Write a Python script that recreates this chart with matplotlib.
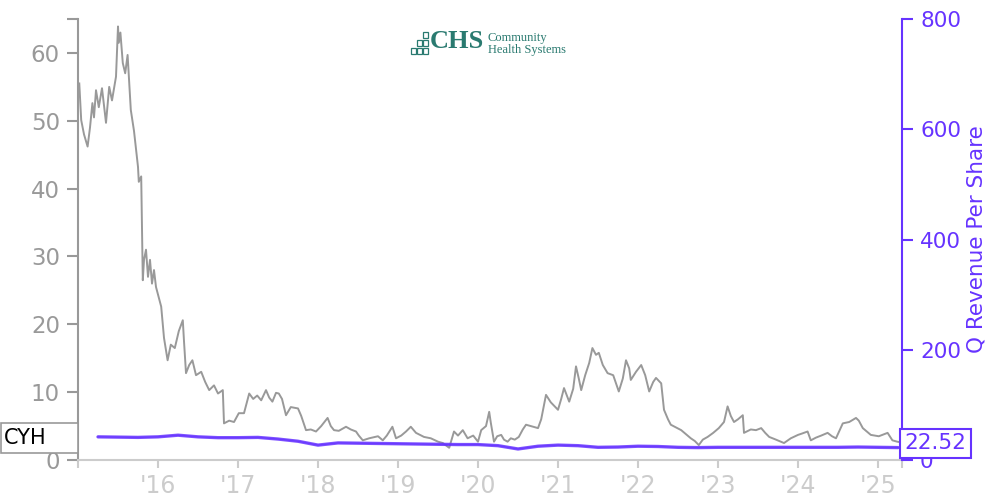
import numpy as np
import matplotlib
matplotlib.use("Agg")
import matplotlib.pyplot as plt
from matplotlib.patches import Rectangle

GRAY = "#999999"
LIGHT = "#cccccc"
PURPLE = "#6633ff"
TEAL = "#2a7a70"

# CYH close price (fractional year, USD)
price_t = [2015.016, 2015.04, 2015.075, 2015.12, 2015.15, 2015.18, 2015.20, 2015.225, 2015.26, 2015.30,
           2015.35, 2015.39, 2015.425, 2015.475, 2015.50, 2015.51, 2015.53, 2015.56, 2015.59, 2015.62,
           2015.66, 2015.70, 2015.75, 2015.76, 2015.79, 2015.81, 2015.825, 2015.85, 2015.875, 2015.90,
           2015.925, 2015.95, 2015.975, 2016.04, 2016.075, 2016.12, 2016.16, 2016.21, 2016.26, 2016.31,
           2016.325, 2016.35, 2016.39, 2016.43, 2016.475, 2016.54, 2016.59, 2016.64, 2016.70, 2016.75,
           2016.81, 2016.825, 2016.89, 2016.95, 2017.01, 2017.075, 2017.14, 2017.19, 2017.24, 2017.29,
           2017.35, 2017.39, 2017.43, 2017.475, 2017.51, 2017.55, 2017.60, 2017.66, 2017.75, 2017.79,
           2017.85, 2017.91, 2017.975, 2018.04, 2018.12, 2018.16, 2018.20, 2018.26, 2018.35, 2018.41,
           2018.475, 2018.51, 2018.56, 2018.64, 2018.75, 2018.81, 2018.86, 2018.93, 2018.975, 2019.04,
           2019.10, 2019.16, 2019.225, 2019.325, 2019.41, 2019.50, 2019.56, 2019.64, 2019.70, 2019.75,
           2019.81, 2019.87, 2019.94, 2020.0, 2020.04, 2020.10, 2020.14, 2020.16, 2020.20, 2020.24,
           2020.29, 2020.325, 2020.37, 2020.41, 2020.46, 2020.51, 2020.56, 2020.60, 2020.66, 2020.75,
           2020.79, 2020.85, 2020.91, 2021.0, 2021.04, 2021.075, 2021.14, 2021.19, 2021.225, 2021.26,
           2021.29, 2021.34, 2021.39, 2021.43, 2021.475, 2021.51, 2021.56, 2021.62, 2021.69, 2021.76,
           2021.81, 2021.85, 2021.89, 2021.91, 2021.975, 2022.04, 2022.09, 2022.14, 2022.19, 2022.225,
           2022.29, 2022.325, 2022.375, 2022.41, 2022.475, 2022.54, 2022.60, 2022.66, 2022.71, 2022.76,
           2022.81, 2022.87, 2022.94, 2023.01, 2023.075, 2023.12, 2023.16, 2023.20, 2023.25, 2023.31,
           2023.325, 2023.41, 2023.475, 2023.54, 2023.59, 2023.64, 2023.725, 2023.825, 2023.91, 2024.0,
           2024.05, 2024.12, 2024.16, 2024.225, 2024.29, 2024.37, 2024.425, 2024.475, 2024.56, 2024.64,
           2024.725, 2024.76, 2024.81, 2024.86, 2024.91, 2025.01, 2025.12, 2025.18, 2025.24, 2025.29]
price = [55.5, 50.1, 48.0, 46.2, 49.0, 52.6, 50.5, 54.5, 52.0, 54.8,
         49.7, 55.0, 53.0, 56.5, 63.9, 61.5, 63.0, 58.5, 57.0, 59.7,
         51.6, 48.5, 43.2, 41.0, 41.8, 26.5, 29.5, 31.0, 27.0, 29.5,
         26.0, 28.0, 25.5, 22.6, 18.0, 14.7, 17.0, 16.5, 19.0, 20.6,
         17.5, 12.8, 14.0, 14.7, 12.5, 13.0, 11.5, 10.3, 11.0, 9.8,
         10.3, 5.4, 5.8, 5.6, 6.9, 6.9, 9.8, 9.0, 9.5, 8.8,
         10.3, 9.2, 8.6, 9.9, 9.8, 9.0, 6.6, 7.8, 7.6, 6.5,
         4.4, 4.5, 4.2, 5.0, 6.2, 5.0, 4.4, 4.3, 4.9, 4.5,
         4.2, 3.6, 2.9, 3.2, 3.5, 2.9, 3.6, 4.9, 3.2, 3.6,
         4.2, 4.9, 4.0, 3.4, 3.2, 2.7, 2.5, 1.8, 4.2, 3.6,
         4.4, 3.2, 3.6, 2.7, 4.4, 5.0, 7.1, 5.5, 2.7, 3.5,
         3.7, 3.0, 2.7, 3.2, 3.0, 3.4, 4.5, 5.2, 5.0, 4.7,
         6.0, 9.6, 8.5, 7.4, 9.0, 10.6, 8.6, 10.5, 13.8, 12.0,
         10.3, 12.5, 14.3, 16.5, 15.5, 15.8, 14.0, 12.8, 12.5, 10.1,
         12.0, 14.7, 13.5, 11.8, 13.0, 14.0, 12.5, 10.1, 11.5, 12.1,
         11.3, 7.4, 6.0, 5.2, 4.8, 4.4, 3.8, 3.2, 2.8, 2.2,
         3.0, 3.4, 4.0, 4.7, 5.6, 7.9, 6.5, 5.6, 6.0, 6.6,
         4.0, 4.5, 4.4, 4.7, 4.0, 3.4, 3.0, 2.5, 3.2, 3.7,
         3.9, 4.2, 2.9, 3.3, 3.6, 4.0, 3.5, 3.2, 5.4, 5.6,
         6.2, 5.8, 4.7, 4.2, 3.7, 3.5, 4.0, 2.9, 2.7, 2.6]

# quarterly revenue per share
rev_t = [2015.25, 2015.5, 2015.75, 2016.0, 2016.25, 2016.5, 2016.75, 2017.0, 2017.25, 2017.5,
         2017.75, 2018.0, 2018.25, 2018.5, 2018.75, 2019.0, 2019.25, 2019.5, 2019.75, 2020.0,
         2020.25, 2020.5, 2020.75, 2021.0, 2021.25, 2021.5, 2021.75, 2022.0, 2022.25, 2022.5,
         2022.75, 2023.0, 2023.25, 2023.5, 2023.75, 2024.0, 2024.25, 2024.5, 2024.75, 2025.0,
         2025.25]
rev = [42.0, 41.5, 41.0, 42.0, 45.0, 42.0, 40.5, 40.5, 41.0, 38.0,
       34.0, 27.0, 31.0, 30.5, 30.0, 29.5, 29.0, 28.5, 28.0, 28.0,
       26.0, 20.0, 25.0, 27.0, 26.0, 23.0, 23.5, 25.0, 24.5, 23.0,
       22.5, 23.0, 23.0, 23.0, 23.0, 23.0, 23.0, 23.0, 23.5, 23.0,
       22.52]

year_ticks = [2016, 2017, 2018, 2019, 2020, 2021, 2022, 2023, 2024, 2025]
year_labels = ["'16", "'17", "'18", "'19", "'20", "'21", "'22", "'23", "'24", "'25"]

fig = plt.figure(figsize=(10, 5), dpi=100)
ax = fig.add_axes([0.078, 0.08, 0.824, 0.882])
ax2 = ax.twinx()

ax.plot(price_t, price, color=GRAY, lw=1.4)
ax2.plot(rev_t, rev, color=PURPLE, lw=1, alpha=0.8)
ax2.plot(rev_t, rev, color=PURPLE, lw=2.4, alpha=0.85, solid_capstyle="round")

ax.set_xlim(2015.0, 2025.3)
ax.set_ylim(0, 65)
ax2.set_ylim(0, 800)

ax.spines["top"].set_visible(False)
ax2.spines["top"].set_visible(False)
ax.spines["right"].set_visible(False)
ax2.spines["left"].set_visible(False)
ax2.spines["bottom"].set_visible(False)
ax.spines["left"].set_color(GRAY)
ax.spines["left"].set_linewidth(1.5)
ax.spines["bottom"].set_color(LIGHT)
ax.spines["bottom"].set_linewidth(1.5)
ax2.spines["right"].set_color(PURPLE)
ax2.spines["right"].set_linewidth(1.5)

ax.set_yticks([0, 10, 20, 30, 40, 50, 60])
ax.set_yticks([65], minor=True)
ax.tick_params(axis="y", which="both", colors=GRAY, labelsize=16.5, length=8, width=1.5, pad=5)
ax.set_xticks(year_ticks)
ax.set_xticklabels(year_labels)
ax.set_xticks([2015.0, 2025.3], minor=True)
ax.tick_params(axis="x", which="both", colors=LIGHT, labelsize=17, length=6, width=1.5, pad=4)

ax2.set_yticks([0, 200, 400, 600, 800])
ax2.tick_params(axis="y", colors=PURPLE, labelcolor=PURPLE, labelsize=15.5, length=8, width=1.5, pad=5)
ax2.set_ylabel("Q Revenue Per Share", color=PURPLE, fontsize=15.5, labelpad=4)

# ticker box on the left
fig.add_artist(Rectangle((0.001, 0.094), 0.077, 0.06, transform=fig.transFigure,
                         fc="white", ec=GRAY, lw=1.2, zorder=5))
fig.text(0.004, 0.123, "CYH", fontsize=15, color="black", va="center", ha="left", zorder=6)

# last value box on the right
ax2.annotate("%.2f" % rev[-1], xy=(1.0, rev[-1]), xycoords=("axes fraction", "data"),
             xytext=(2, 3), textcoords="offset points", fontsize=15.5, color=PURPLE,
             va="center", ha="left", annotation_clip=False,
             bbox=dict(boxstyle="square,pad=0.22", fc="white", ec=PURPLE, lw=1.5))

# logo
for (x, y) in [(0.423, 0.924), (0.423, 0.908), (0.423, 0.892), (0.417, 0.908),
               (0.417, 0.892), (0.411, 0.892)]:
    fig.add_artist(Rectangle((x, y), 0.0045, 0.011, transform=fig.transFigure,
                             fill=False, ec=TEAL, lw=0.9))
fig.text(0.430, 0.904, "CHS", fontsize=19, family="Liberation Serif", color=TEAL,
         va="baseline", ha="left", weight="bold")
fig.text(0.488, 0.919, "Community", fontsize=9, family="Liberation Serif", color=TEAL,
         va="baseline", ha="left")
fig.text(0.488, 0.895, "Health Systems", fontsize=9, family="Liberation Serif", color=TEAL,
         va="baseline", ha="left")

fig.savefig("out.png", dpi=100)
